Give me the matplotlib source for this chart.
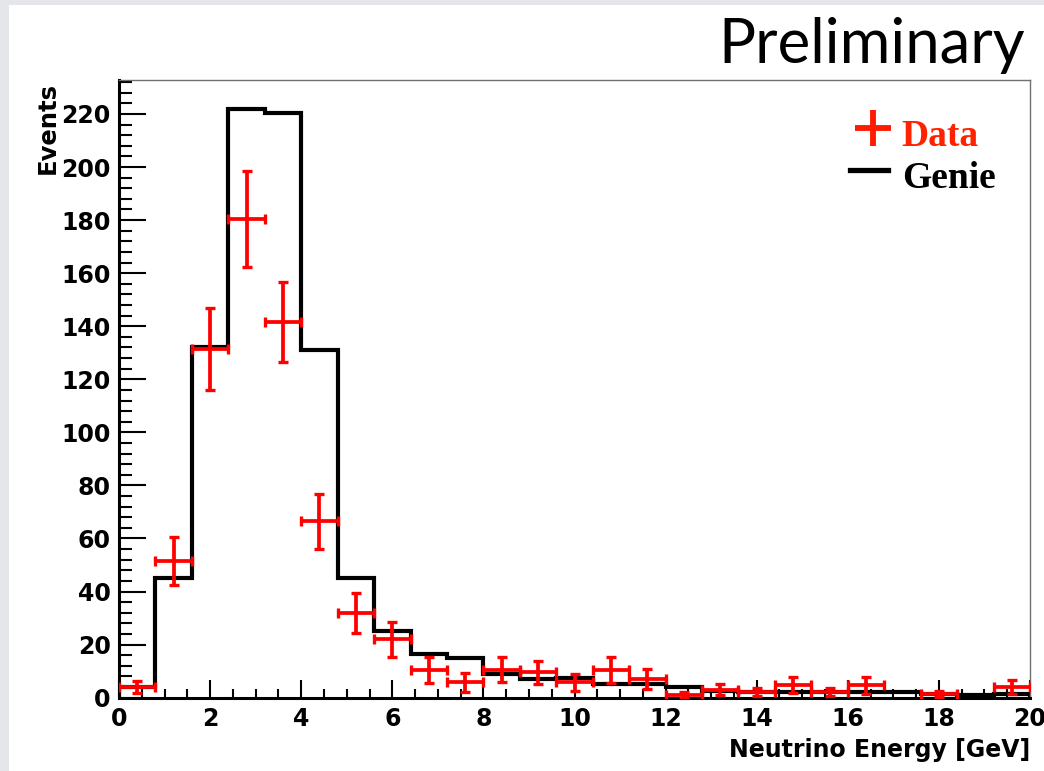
import numpy as np
import matplotlib
matplotlib.use("Agg")
import matplotlib.pyplot as plt
from matplotlib.patches import Rectangle
from matplotlib.ticker import MultipleLocator

# Binning: 25 bins of 0.8 GeV between 0 and 20 GeV
bin_edges = np.linspace(0.0, 20.0, 26)

# GENIE prediction per bin
genie_counts = [4, 45, 132, 222, 220.5, 131, 45, 25, 16.5, 14.8,
                9, 7, 7.5, 5, 5, 4, 2.5, 2, 2, 2,
                2, 2, 1.5, 1, 1.5]

# Measured events per bin and their uncertainties
data_counts = [4, 51.5, 131.5, 180.5, 141.5, 66.5, 32, 22, 10.5, 5.8,
               10.6, 9.5, 5.8, 10.4, 7, 1, 3, 2, 4.7, 2.3,
               4.6, 0, 1.4, 0, 4]
data_errors = [2.2, 9, 15.5, 18, 15, 10.4, 7.5, 6.6, 5, 3.5,
               4.7, 4.5, 3.3, 5, 3.8, 1, 2, 1.5, 3, 1.5,
               3.3, 0, 1.3, 0, 2.5]

x_ticks = [0, 2, 4, 6, 8, 10, 12, 14, 16, 18, 20]
y_ticks = [0, 20, 40, 60, 80, 100, 120, 140, 160, 180, 200, 220]

W, H = 1044, 771
fig = plt.figure(figsize=(W / 100, H / 100), dpi=100, facecolor="#e4e6ea")

# white slide panel behind everything
fig.patches.append(Rectangle((9 / W, 0), 1 - 9 / W, 1 - 5 / H,
                             transform=fig.transFigure, facecolor="white",
                             edgecolor="none", zorder=-10))

ax = fig.add_axes([119 / W, 1 - 697.7 / H, (1030 - 119) / W, (697.7 - 80) / H])
ax.set_facecolor("white")

ax.stairs(genie_counts, bin_edges, color="black", lw=3.0, zorder=2)

centers = 0.5 * (bin_edges[:-1] + bin_edges[1:])
half_width = 0.5 * np.diff(bin_edges)
d = np.array(data_counts, dtype=float)
e = np.array(data_errors, dtype=float)
keep = d > 0  # empty bins carry no marker
ax.errorbar(centers[keep], d[keep], yerr=e[keep], xerr=half_width[keep],
            fmt="none", ecolor="#ff0000", elinewidth=2.7, capsize=3.6,
            capthick=2.4, zorder=3)

ax.set_xlim(0, 20)
ax.set_ylim(0, 232.8)
ax.set_xticks(x_ticks)
ax.set_yticks(y_ticks)
ax.xaxis.set_minor_locator(MultipleLocator(0.5))
ax.yaxis.set_minor_locator(MultipleLocator(4))

tick_font = dict(family="DejaVu Sans", weight="bold", size=17)
ax.set_xticklabels([str(v) for v in x_ticks], **tick_font)
ax.set_yticklabels([str(v) for v in y_ticks], **tick_font)

ax.tick_params(axis="y", which="major", direction="in", length=19.4, width=1.5,
               pad=6, right=False)
ax.tick_params(axis="y", which="minor", direction="in", length=9.2, width=1.5,
               right=False)
ax.tick_params(axis="x", which="major", direction="in", length=13, width=1.5,
               pad=7, top=False)
ax.tick_params(axis="x", which="minor", direction="in", length=6.5, width=1.5,
               top=False)

for side in ("left", "bottom"):
    ax.spines[side].set_linewidth(2.2)
    ax.spines[side].set_color("black")
for side in ("top", "right"):
    ax.spines[side].set_linewidth(1.0)
    ax.spines[side].set_color("#707070")

# axis titles
fig.text(1030 / W, 1 - 756.7 / H, "Neutrino Energy [GeV]", ha="right",
         va="baseline", family="DejaVu Sans", weight="bold", size=17)
fig.text(47.5 / W, 1 - 81.7 / H, "Events", ha="center", va="top", rotation=90,
         family="DejaVu Sans", weight="bold", size=17.5)

# legend
fig.lines.append(plt.Line2D([872.5 / W], [1 - 128.3 / H], marker="+",
                            markersize=26, mew=4.2, color="#ff1a00",
                            transform=fig.transFigure))
fig.lines.append(plt.Line2D([850 / W, 888 / W], [1 - 170 / H, 1 - 170 / H],
                            lw=3.8, color="black", transform=fig.transFigure))
fig.text(901.7 / W, 1 - 145.7 / H, "Data", ha="left", va="baseline",
         family="Liberation Serif", weight="bold", size=27, color="#ff2200")
fig.text(901.7 / W, 1 - 188 / H, "Genie", ha="left", va="baseline",
         family="Liberation Serif", weight="bold", size=27, color="black")

fig.text(1025 / W, 1 - 63.3 / H, "Preliminary", ha="right", va="baseline",
         family="Lato", size=44.5, color="black")

fig.savefig("out.png", dpi=100, facecolor=fig.get_facecolor())
